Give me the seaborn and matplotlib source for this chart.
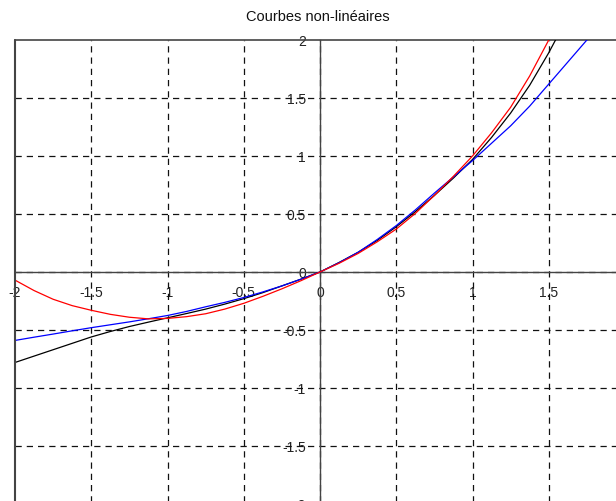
import numpy as np
import pandas as pd
import matplotlib
matplotlib.use("Agg")
import matplotlib.pyplot as plt
import seaborn as sns
from matplotlib.ticker import MultipleLocator

title = "Courbes non-linéaires"

x_black = [-2.0, -1.875, -1.75, -1.625, -1.5, -1.375, -1.25, -1.125, -1.0, -0.875, -0.75, -0.625,
           -0.5, -0.375, -0.25, -0.125, 0.0, 0.125, 0.25, 0.375, 0.5, 0.625, 0.75, 0.875,
           1.0, 1.125, 1.25, 1.375, 1.5, 1.625]
y_black = [-0.78, -0.725, -0.67, -0.615, -0.56, -0.513, -0.47, -0.432, -0.395, -0.358, -0.32, -0.277,
           -0.23, -0.178, -0.12, -0.062, 0.0, 0.082, 0.17, 0.272, 0.39, 0.52, 0.66, 0.81,
           0.97, 1.16, 1.37, 1.61, 1.89, 2.2]

x_blue = [-2.0, -1.875, -1.75, -1.625, -1.5, -1.375, -1.25, -1.125, -1.0, -0.875, -0.75, -0.625,
          -0.5, -0.375, -0.25, -0.125, 0.0, 0.125, 0.25, 0.375, 0.5, 0.625, 0.75, 0.875,
          1.0, 1.125, 1.25, 1.375, 1.5, 1.625, 1.75, 1.875, 2.0]
y_blue = [-0.59, -0.562, -0.535, -0.507, -0.48, -0.455, -0.43, -0.403, -0.375, -0.34, -0.30, -0.262,
          -0.22, -0.172, -0.12, -0.062, 0.0, 0.08, 0.17, 0.28, 0.40, 0.535, 0.68, 0.82,
          0.96, 1.11, 1.26, 1.43, 1.62, 1.81, 2.0, 2.19, 2.38]

x_red = [-2.0, -1.875, -1.75, -1.625, -1.5, -1.375, -1.25, -1.125, -1.0, -0.875, -0.75, -0.625,
         -0.5, -0.375, -0.25, -0.125, 0.0, 0.125, 0.25, 0.375, 0.5, 0.625, 0.75, 0.875,
         1.0, 1.125, 1.25, 1.375, 1.5, 1.625]
y_red = [-0.07, -0.16, -0.235, -0.29, -0.33, -0.365, -0.39, -0.404, -0.40, -0.385, -0.36, -0.32,
         -0.27, -0.21, -0.145, -0.075, 0.0, 0.075, 0.16, 0.26, 0.37, 0.505, 0.66, 0.825,
         1.0, 1.2, 1.42, 1.69, 2.0, 2.35]

df = pd.concat([
    pd.DataFrame({"x": x_black, "y": y_black, "courbe": "noir"}),
    pd.DataFrame({"x": x_blue, "y": y_blue, "courbe": "bleu"}),
    pd.DataFrame({"x": x_red, "y": y_red, "courbe": "rouge"}),
], ignore_index=True)

sns.set_style("white")
plt.rcParams["font.family"] = ["Liberation Sans", "DejaVu Sans"]

W, H = 616, 501
fig = plt.figure(figsize=(W / 100, H / 100), dpi=100)
ax = fig.add_axes([15 / W, (H - 504) / H, 610 / W, 464 / H])

palette = {"noir": "black", "bleu": "#0000ff", "rouge": "#ff0000"}
sns.lineplot(data=df, x="x", y="y", hue="courbe", palette=palette, sort=False,
             estimator=None, linewidth=0.9, legend=False, ax=ax, zorder=3)

ax.set_xlim(-2, 2)
ax.set_ylim(-2, 2)
ax.set_xlabel("")
ax.set_ylabel("")

# grid
for v in np.arange(-1.5, 2.0, 0.5):
    ax.axvline(v, color="#111111", lw=0.9, ls=(0, (5, 4)), zorder=1)
    ax.axhline(v, color="#111111", lw=0.9, ls=(0, (5, 4)), zorder=1)

# centred axes
ax.spines["left"].set_position(("data", 0))
ax.spines["bottom"].set_position(("data", 0))
ax.spines["right"].set_visible(False)
for s in ["left", "bottom", "top"]:
    ax.spines[s].set_color("#444444")
    ax.spines[s].set_linewidth(1.0)
ax.axvline(-2, color="#444444", lw=1.5, zorder=4, clip_on=False)
ax.spines["top"].set_linewidth(1.2)

ax.xaxis.set_major_locator(MultipleLocator(0.5))
ax.xaxis.set_minor_locator(MultipleLocator(0.1))
ax.yaxis.set_major_locator(MultipleLocator(0.5))
ax.yaxis.set_minor_locator(MultipleLocator(0.1))
ax.tick_params(which="both", direction="out", colors="#333333", top=False, right=False)
ax.tick_params(which="major", length=4, width=1.0, labelsize=10, pad=6)
ax.tick_params(which="minor", length=3, width=1.0)

def fmt(v, _):
    if abs(v) < 1e-9:
        return "0"
    if v > 1.99 and v < 2.01:
        return ""
    return "%g" % v

def yfmt(v, _):
    if abs(v) < 1e-9:
        return "0"
    return "%g" % v

ax.xaxis.set_major_formatter(plt.FuncFormatter(fmt))
ax.yaxis.set_major_formatter(plt.FuncFormatter(yfmt))
for lab in ax.get_xticklabels() + ax.get_yticklabels():
    lab.set_color("#222222")

fig.text(318 / W, 1 - 17 / H, title, ha="center", va="center", fontsize=10.5, color="#111111")

fig.savefig("out.png", dpi=100)
